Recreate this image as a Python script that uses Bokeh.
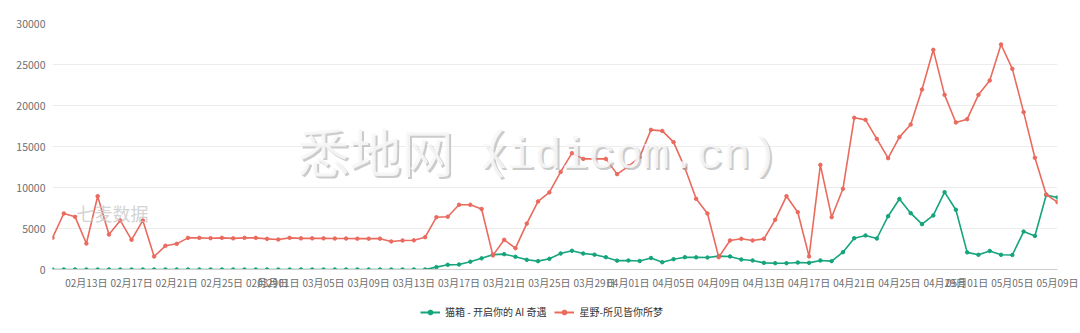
from datetime import datetime, timedelta
from bokeh.plotting import figure
from bokeh.layouts import column
from bokeh.models import (Range1d, FixedTicker, DatetimeTickFormatter, Legend,
                          LegendItem, Label, AllLabels)
from bokeh.embed import file_html
from bokeh.resources import INLINE

# ---------------- data ----------------
start_date = datetime(2024, 2, 10)
n_days = 90
dates = [start_date + timedelta(days=i) for i in range(n_days)]

series_names = ["猫箱 - 开启你的 AI 奇遇", "星野-所见皆你所梦"]

maoxiang = [0] * 33 + [
    0, 290, 570, 610, 950, 1360, 1810, 1870, 1550, 1180,
    1020, 1300, 1950, 2280, 1950, 1810, 1500, 1080, 1100, 1040,
    1400, 890, 1260, 1500, 1480, 1460, 1630, 1590, 1220, 1100,
    810, 770, 770, 850, 810, 1100, 1020, 2110, 3820, 4150,
    3780, 6500, 8600, 6870, 5530, 6590, 9430, 7280, 2090, 1790,
    2260, 1790, 1770, 4630, 4090, 9090, 8780,
]

xingye = [
    3860, 6830, 6420, 3170, 8940, 4270, 5980, 3620, 5980, 1590,
    2890, 3130, 3860, 3860, 3820, 3860, 3800, 3860, 3860, 3740,
    3660, 3860, 3800, 3800, 3800, 3780, 3780, 3760, 3760, 3760,
    3420, 3540, 3560, 3940, 6380, 6440, 7890, 7890, 7380, 1720,
    3620, 2600, 5600, 8300, 9400, 11900, 14190, 13490, 13490, 13490,
    11630, 12580, 13700, 17030, 16900, 15530, 12400, 8620, 6830, 1500,
    3540, 3740, 3540, 3740, 6060, 8940, 6990, 1590, 12760, 6380,
    9840, 18500, 18250, 15930, 13580, 16140, 17680, 21950, 26790, 21300,
    17930, 18330, 21300, 23050, 27440, 24470, 19190, 13620, 9150, 8210,
]

y_ticks = [0, 5000, 10000, 15000, 20000, 25000, 30000]
tick_days = [1, 5, 9, 13, 17, 21, 25, 29]
tick_months = [2, 3, 4, 5]

GREEN = "#15a47c"
RED = "#ea6a5e"
FONT = "Noto Sans CJK SC"

# x tick positions: every listed day of each month that lies in the data span
epoch = datetime(1970, 1, 1)
x_ticks = []
for m in tick_months:
    for d in tick_days:
        try:
            t = datetime(2024, m, d)
        except ValueError:
            continue
        if dates[0] <= t <= dates[-1]:
            x_ticks.append((t - epoch).total_seconds() * 1000.0)

# ---------------- main figure ----------------
p = figure(width=1080, height=292, x_axis_type="datetime",
           output_backend="svg", toolbar_location=None,
           x_range=Range1d(dates[0], dates[-1]), y_range=Range1d(0, 30000),
           min_border_left=52, min_border_right=23,
           min_border_top=23, min_border_bottom=23)
p.outline_line_color = None
p.background_fill_color = "white"
p.border_fill_color = "white"

# y axis
p.yaxis.ticker = y_ticks
p.yaxis.axis_line_color = None
p.yaxis.major_tick_line_color = None
p.yaxis.minor_tick_line_color = None
p.yaxis.major_tick_out = 0
p.yaxis.minor_tick_out = 0
p.yaxis.major_label_text_color = "#6e6e6e"
p.yaxis.major_label_text_font = FONT
p.yaxis.major_label_text_font_size = "10.5px"
p.yaxis.major_label_standoff = 7

# x axis
p.xaxis.ticker = FixedTicker(ticks=x_ticks)
p.xaxis.formatter = DatetimeTickFormatter(days="%m月%d日", months="%m月%d日")
p.xaxis.major_label_policy = AllLabels()
p.xaxis.axis_line_color = "#cccccc"
p.xaxis.major_tick_line_color = None
p.xaxis.minor_tick_line_color = None
p.xaxis.major_tick_out = 0
p.xaxis.minor_tick_out = 0
p.xaxis.major_label_text_color = "#6e6e6e"
p.xaxis.major_label_text_font = FONT
p.xaxis.major_label_text_font_size = "10px"
p.xaxis.major_label_standoff = 5

p.xgrid.grid_line_color = None
p.ygrid.grid_line_color = "#ececec"
p.ygrid.grid_line_width = 1

# watermarks
wm_shadow = dict(x_units="screen", y_units="screen",
                 text_color="#a8a8a8", text_alpha=0.6)
wm_top = dict(x_units="screen", y_units="screen",
              text_color="#f7f7f7", text_alpha=0.9)
for cfg, dx, dy in ((wm_shadow, 2, -2), (wm_top, 0, 0)):
    p.add_layout(Label(x=245 + dx, y=82 + dy, text="悉地网（", text_font=FONT,
                       text_font_size="52px", **cfg))
    p.add_layout(Label(x=428 + dx, y=88 + dy, text="xidicom.cn)",
                       text_font="Liberation Mono", text_font_size="45px", **cfg))

p.add_layout(Label(x=24, y=44, x_units="screen", y_units="screen", text="七麦数据",
                   text_font=FONT, text_font_size="18px", text_color="#c8c8c8",
                   text_alpha=0.8))

# series
p.line(dates, maoxiang, line_color=GREEN, line_width=1.6)
p.scatter(dates, maoxiang, size=3.5, fill_color=GREEN, line_color=GREEN)
p.line(dates, xingye, line_color=RED, line_width=1.6)
p.scatter(dates, xingye, size=3.5, fill_color=RED, line_color=RED)

# ---------------- legend strip ----------------
lg = figure(width=1080, height=41, output_backend="svg", toolbar_location=None,
            x_range=Range1d(0, 1), y_range=Range1d(0, 1),
            x_axis_location=None, y_axis_location=None,
            min_border=0, min_border_left=0, min_border_right=0,
            min_border_top=0, min_border_bottom=0)
lg.grid.visible = False
lg.outline_line_color = None
lg.background_fill_color = "white"
lg.border_fill_color = "white"

# legend proxies: one NaN point each, so nothing is drawn in the strip itself
nan = float("nan")
gl = lg.line(x=[nan], y=[nan], line_color=GREEN, line_width=2)
gk = lg.scatter(x=[nan], y=[nan], size=8, fill_color=GREEN, line_color=GREEN)
rl = lg.line(x=[nan], y=[nan], line_color=RED, line_width=2)
rk = lg.scatter(x=[nan], y=[nan], size=8, fill_color=RED, line_color=RED)

legend = Legend(items=[LegendItem(label=series_names[0], renderers=[gl, gk]),
                       LegendItem(label=series_names[1], renderers=[rl, rk])],
                orientation="horizontal", location=(368, 14),
                border_line_color=None, background_fill_alpha=0,
                label_text_font=FONT, label_text_font_size="10px",
                label_text_color="#333333", glyph_width=20, glyph_height=12,
                label_height=12, label_standoff=5, spacing=8,
                padding=0, margin=0)
lg.add_layout(legend, "center")

layout = column(p, lg, spacing=0)
open("out.html", "w").write(file_html(layout, INLINE))
